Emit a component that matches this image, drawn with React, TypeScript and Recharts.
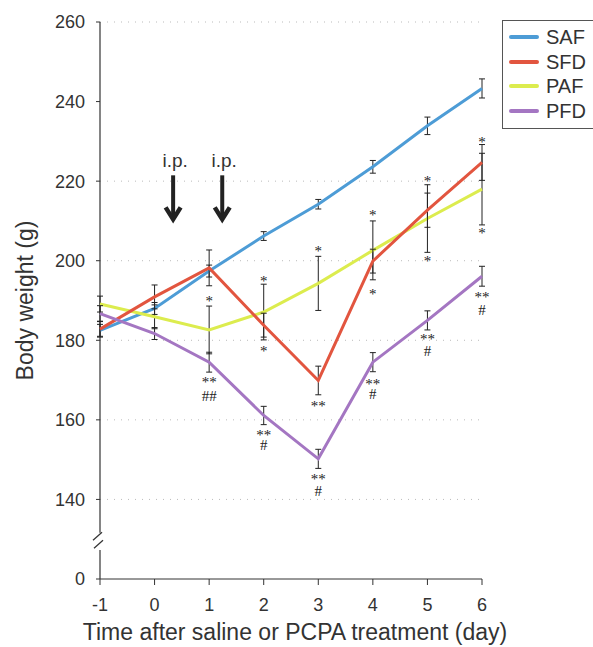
import { LineChart, Line, XAxis, YAxis, ErrorBar, ReferenceLine, ReferenceDot, Legend, CartesianGrid } from "recharts";

// day after saline / PCPA injection
const days = [-1, 0, 1, 2, 3, 4, 5, 6];

// body weight (g), mean and error
const saf = [182.5, 188, 197.4, 206.2, 214.2, 223.6, 233.9, 243.3];
const safErr = [1.5, 1.5, 1.5, 1.1, 1.2, 1.6, 2.2, 2.4];
const sfd = [182.8, 190.9, 198.2, 183.8, 169.9, 199.9, 212.7, 224.7];
const sfdErr = [2, 3, 4.5, 3, 3.6, 3, 4.3, 4.5];
const paf = [189.1, 185.9, 182.6, 187.1, 194.3, 202.6, 210.6, 218];
const pafErr = [2, 3, 6, 7, 6.8, 7.4, 8.5, 9];
const pfd = [186.7, 181.7, 174.5, 161.1, 150.2, 174.5, 185, 196.1];
const pfdErr = [2, 1.5, 2.5, 2.3, 2.4, 2.4, 2.4, 2.5];

const yTicks = [120, 140, 160, 180, 200, 220, 240, 260];
const gridValues = [140, 160, 180, 200, 220, 260];

// i.p. injection arrows (day, tip weight)
const injections = [
  { day: 0.34, g: 209.9 },
  { day: 1.24, g: 209.9 },
];

// significance marks
const marks = [
  { day: 1, g: 190.6, text: "*" },
  { day: 1, g: 170.3, text: "**" },
  { day: 1, g: 166.0, text: "##" },
  { day: 2, g: 195.6, text: "*" },
  { day: 2, g: 178, text: "*" },
  { day: 2, g: 156.9, text: "**" },
  { day: 2, g: 153.8, text: "#" },
  { day: 3, g: 203.1, text: "*" },
  { day: 3, g: 164.2, text: "**" },
  { day: 3, g: 145.9, text: "**" },
  { day: 3, g: 142.0, text: "#" },
  { day: 4, g: 212.2, text: "*" },
  { day: 4, g: 192.4, text: "*" },
  { day: 4, g: 169.8, text: "**" },
  { day: 4, g: 166.4, text: "#" },
  { day: 5, g: 220.7, text: "*" },
  { day: 5, g: 200.6, text: "*" },
  { day: 5, g: 181.0, text: "**" },
  { day: 5, g: 177.2, text: "#" },
  { day: 6, g: 230.7, text: "*" },
  { day: 6, g: 207.7, text: "*" },
  { day: 6, g: 191.6, text: "**" },
  { day: 6, g: 187.7, text: "#" },
];

const series = [
  { key: "SAF", color: "#4d9cd6" },
  { key: "SFD", color: "#e2553f" },
  { key: "PAF", color: "#dcec4e" },
  { key: "PFD", color: "#a476c2" },
];

const data = days.map((d, i) => ({
  day: d,
  SAF: saf[i], SAFerr: safErr[i],
  SFD: sfd[i], SFDerr: sfdErr[i],
  PAF: paf[i], PAFerr: pafErr[i],
  PFD: pfd[i], PFDerr: pfdErr[i],
}));

const sans = "'Liberation Sans', Arial, sans-serif";
const serif = "'Liberation Serif', 'Times New Roman', serif";
const ink = "#333";

function LegendBox() {
  return (
    <div style={{ width: 110, height: 109, border: "1px solid #555", background: "#fff", boxSizing: "border-box", paddingTop: 4 }}>
      {series.map((s) => (
        <div key={s.key} style={{ display: "flex", alignItems: "center", height: 24.5 }}>
          <div style={{ width: 30, height: 4, borderRadius: 2, background: s.color, marginLeft: 6, marginRight: 7 }} />
          <span style={{ fontFamily: sans, fontSize: 20, color: ink, lineHeight: "20px" }}>{s.key}</span>
        </div>
      ))}
    </div>
  );
}

function Arrow(props: any) {
  const { cx, cy } = props;
  return (
    <g>
      <text x={cx + 2} y={cy - 54} textAnchor="middle" fontFamily={sans} fontSize={19} fill={ink}>i.p.</text>
      <line x1={cx} y1={cy - 46} x2={cx} y2={cy - 3} stroke="#222" strokeWidth={4} />
      <polyline points={`${cx - 7.5},${cy - 14} ${cx},${cy - 2} ${cx + 7.5},${cy - 14}`} fill="none" stroke="#222" strokeWidth={4.5} />
    </g>
  );
}

function AxisBreak(props: any) {
  const { cx, cy } = props;
  return (
    <g stroke={ink} strokeWidth={1.3}>
      <line x1={cx - 7} y1={cy - 1} x2={cx + 2} y2={cy - 9} />
      <line x1={cx - 6} y1={cy + 7} x2={cx + 3} y2={cy - 1} />
    </g>
  );
}

function markShape(text: string) {
  return (props: any) => (
    <text x={props.cx} y={props.cy + (text.includes("#") ? 5 : 8)} textAnchor="middle" fontFamily={serif} fontSize={15} fill="#222" stroke="none">
      {text}
    </text>
  );
}

export default function App() {
  return (
    <div style={{ position: "absolute", left: 0, top: 0, background: "#fff" }}>
      <LineChart width={593} height={647} data={data} margin={{ top: 22, right: 111, bottom: 0, left: 0 }}>
        <CartesianGrid vertical={false} horizontalValues={gridValues} stroke="#bbb" strokeDasharray="1 6" />
        <XAxis
          type="number"
          dataKey="day"
          domain={[-1, 6]}
          ticks={days}
          height={68}
          tickSize={6}
          tickMargin={13}
          stroke={ink}
          tick={{ fontSize: 18, fill: ink, fontFamily: sans }}
          label={{
            content: (p: any) => (
              <text x={p.viewBox.x + p.viewBox.width / 2 + 4} y={p.viewBox.y + p.viewBox.height - 7} textAnchor="middle" fontFamily={sans} fontSize={23} fill={ink}>
                Time after saline or PCPA treatment (day)
              </text>
            ),
          }}
        />
        <YAxis
          type="number"
          domain={[120, 260]}
          ticks={yTicks}
          width={100}
          axisLine={false}
          tickSize={4}
          tickMargin={11}
          stroke={ink}
          tickFormatter={(v: number) => (v === 120 ? "0" : String(v))}
          tick={{ fontSize: 18, fill: ink, fontFamily: sans }}
          label={{
            content: (p: any) => {
              const x = 33;
              const y = p.viewBox.y + p.viewBox.height / 2;
              return (
                <text x={x} y={y} transform={`rotate(-90 ${x} ${y})`} textAnchor="middle" fontFamily={sans} fontSize={23} fill={ink}>
                  Body weight (g)
                </text>
              );
            },
          }}
        />
        <ReferenceLine segment={[{ x: -1, y: 260 }, { x: -1, y: 131.6 }]} stroke={ink} strokeWidth={1.2} />
        <ReferenceLine segment={[{ x: -1, y: 127.3 }, { x: -1, y: 120 }]} stroke={ink} strokeWidth={1.2} />
        <ReferenceDot x={-1} y={129.5} ifOverflow="visible" shape={AxisBreak} />
        {["SAF", "PAF", "SFD", "PFD"].map((k) => {
          const s = series.find((x) => x.key === k)!;
          return (
            <Line key={k} dataKey={k} stroke={s.color} strokeWidth={3} dot={false} isAnimationActive={false}>
              <ErrorBar dataKey={`${k}err`} width={3} stroke="#222" strokeWidth={1} direction="y" />
            </Line>
          );
        })}
        {injections.map((a, i) => (
          <ReferenceDot key={`a${i}`} x={a.day} y={a.g} ifOverflow="visible" shape={Arrow} />
        ))}
        {marks.map((m, i) => (
          <ReferenceDot key={`m${i}`} x={m.day} y={m.g} ifOverflow="visible" shape={markShape(m.text)} />
        ))}
        <Legend layout="vertical" align="center" verticalAlign="middle" content={() => <LegendBox />} wrapperStyle={{ left: 502, top: 20, width: 110 }} />
      </LineChart>
    </div>
  );
}
